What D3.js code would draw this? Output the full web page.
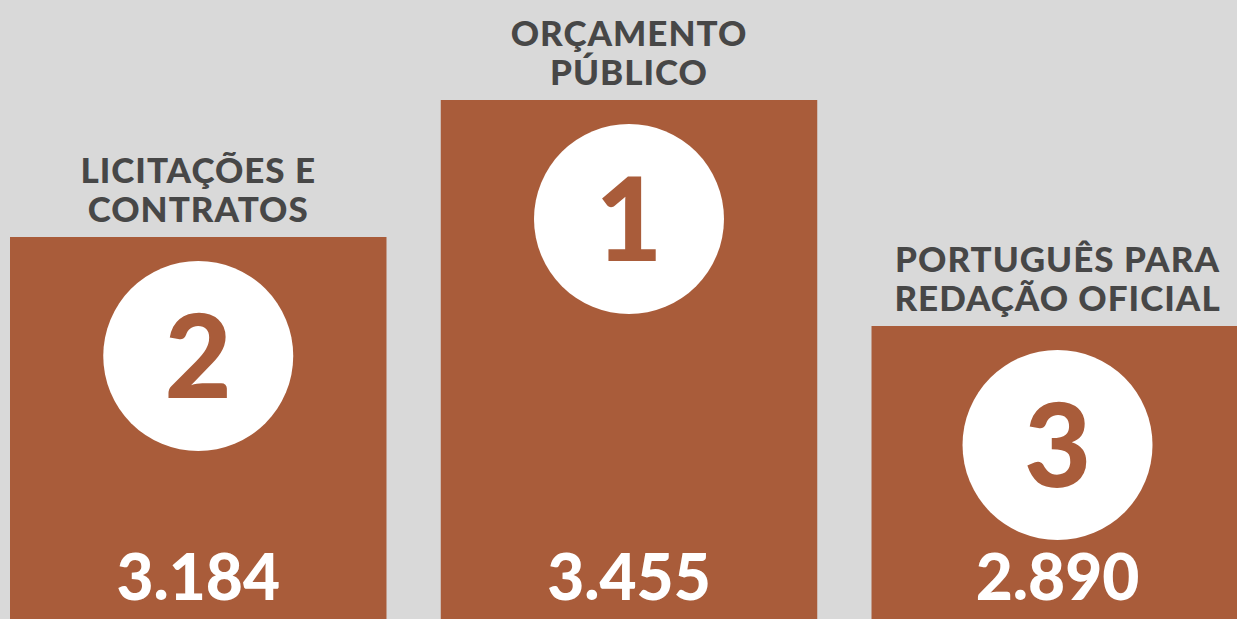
<!DOCTYPE html>
<html>
<head>
<meta charset="utf-8">
<script src="https://cdn.jsdelivr.net/npm/d3@7"></script>
<style>
  html, body { margin: 0; padding: 0; background: #d9d9d9; overflow: hidden; }
  svg { display: block; }
  text { font-family: Lato, "Open Sans", sans-serif; font-weight: 900; }
</style>
</head>
<body>
<svg width="1237" height="619"></svg>
<script>
// dados do gráfico
const categories = [
  ['LICITAÇÕES E', 'CONTRATOS'],
  ['ORÇAMENTO', 'PÚBLICO'],
  ['PORTUGUÊS PARA', 'REDAÇÃO OFICIAL']
];
const values = [3184, 3455, 2890];
const ranks = [2, 1, 3];

const data = categories.map((c, i) => ({ lines: c, value: values[i], rank: ranks[i], key: i }));

const svg = d3.select('svg');
const width = +svg.attr('width');
const height = +svg.attr('height');

const colorBar = '#a95c3a';
const colorTitle = '#474747';

// formato brasileiro: ponto como separador de milhar
const br = d3.formatLocale({ decimal: ',', thousands: '.', grouping: [3], currency: ['R$', ''] });
const fmt = br.format(',d');

// uma banda por categoria, a última passa da borda direita
const xScale = d3.scaleBand()
  .domain(data.map(d => d.key))
  .range([10, 1248])
  .paddingInner(0.126)
  .paddingOuter(0);

// escala do topo das barras (infográfico, não parte do zero)
const yScale = d3.scaleLinear()
  .domain([2890, 3184, 3455])
  .range([326, 237, 100]);

const g = svg.append('g');

const bar = g.selectAll('g.bar').data(data)
  .enter().append('g')
    .attr('class', 'bar')
    .attr('transform', d => `translate(${xScale(d.key)},0)`);

bar.append('rect')
  .attr('x', 0)
  .attr('y', d => yScale(d.value))
  .attr('width', xScale.bandwidth())
  .attr('height', d => height - yScale(d.value))
  .style('fill', colorBar);

const cx = d => (d.key === 2 ? 186 : xScale.bandwidth() / 2);

// círculo com a posição no ranking
bar.append('circle')
  .attr('cx', cx)
  .attr('cy', d => yScale(d.value) + 119)
  .attr('r', 95)
  .style('fill', '#ffffff');

bar.append('text')
  .attr('x', cx)
  .attr('y', d => yScale(d.value) + 119 + 42)
  .attr('text-anchor', 'middle')
  .style('font-size', '116px')
  .style('fill', colorBar)
  .text(d => d.rank);

// valor embaixo
bar.append('text')
  .attr('x', cx)
  .attr('y', 600)
  .attr('text-anchor', 'middle')
  .style('font-size', '64px')
  .style('fill', '#ffffff')
  .text(d => fmt(d.value));

// título em duas linhas acima da barra
bar.append('text')
  .attr('text-anchor', 'middle')
  .style('font-size', '35px')
  .style('letter-spacing', '1px')
  .style('fill', colorTitle)
  .selectAll('tspan').data(d => d.lines.map((l, j) => ({ l, j, d })))
  .enter().append('tspan')
    .attr('x', t => cx(t.d))
    .attr('y', t => yScale(t.d.value) - (t.j === 0 ? 54 : 15))
    .text(t => t.l);
</script>
</body>
</html>
